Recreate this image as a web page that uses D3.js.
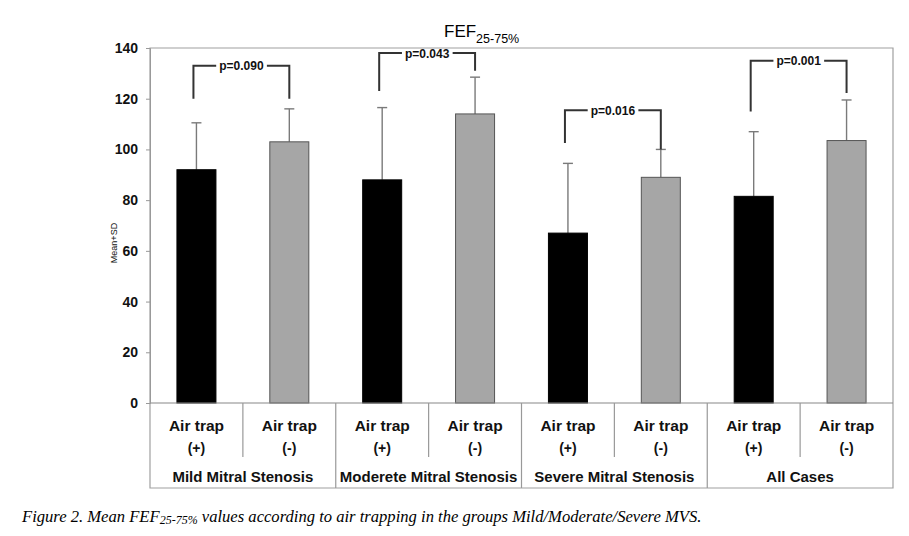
<!DOCTYPE html>
<html><head><meta charset="utf-8">
<script src="https://cdn.jsdelivr.net/npm/d3@7"></script>
<style>body{margin:0;background:#fff}svg{display:block}</style>
</head><body><svg id="c" width="909" height="536"></svg>
<script>
const groups = ["Mild Mitral Stenosis","Moderete Mitral Stenosis","Severe Mitral Stenosis","All Cases"];
const subgroups = ["(+)","(-)"];
const meanPos = [92, 88, 67, 81.5];
const meanNeg = [103, 114, 89, 103.5];
const sdTopPos = [110.5, 116.5, 94.5, 107];
const sdTopNeg = [116, 128.5, 100, 119.5];
const pValues = ["p=0.090","p=0.043","p=0.016","p=0.001"];
const bracketTop = [133, 138, 115.5, 135];
const bracketLeftEnd = [120, 123, 102.5, 115];
const bracketRightEnd = [120, 131, 100, 122.3];
const yTicks = [0,20,40,60,80,100,120,140];

const svg = d3.select("#c");
const L=150, R=893, T=48, B=403, BOTTOM=488;
const keys = [];
groups.forEach((g,i)=>subgroups.forEach((s,j)=>keys.push(i+"_"+j)));
const x = d3.scaleBand().domain(keys).range([L,R]).padding(0);
const y = d3.scaleLinear().domain([0,140]).range([B,T]);
const bw = x.bandwidth()*0.42;
const cx = k => x(k)+x.bandwidth()/2;

const bars = [];
groups.forEach((g,i)=>{
  bars.push({k:i+"_0", v:meanPos[i], sd:sdTopPos[i], fill:"#000", stroke:"#000"});
  bars.push({k:i+"_1", v:meanNeg[i], sd:sdTopNeg[i], fill:"#a6a6a6", stroke:"#555"});
});

// frame
svg.append("path").attr("d",`M${L},${T}H${R}V${BOTTOM}H${L}Z`).attr("fill","none").attr("stroke","#a0a0a0").attr("stroke-width",1.2);

// error bars
const eb = svg.append("g").attr("stroke","#7a7a7a").attr("stroke-width",1.4);
bars.forEach(b=>{
  eb.append("line").attr("x1",cx(b.k)).attr("x2",cx(b.k)).attr("y1",y(b.v)).attr("y2",y(b.sd));
  eb.append("line").attr("x1",cx(b.k)-5).attr("x2",cx(b.k)+5).attr("y1",y(b.sd)).attr("y2",y(b.sd));
});
// bars
svg.append("g").selectAll("rect").data(bars).join("rect")
  .attr("x",d=>cx(d.k)-bw/2).attr("width",bw)
  .attr("y",d=>y(d.v)).attr("height",d=>y(0)-y(d.v))
  .attr("fill",d=>d.fill).attr("stroke",d=>d.stroke).attr("stroke-width",1);

// baseline
svg.append("line").attr("x1",L).attr("x2",R).attr("y1",B).attr("y2",B).attr("stroke","#888").attr("stroke-width",1.2);

// y axis
const ya = svg.append("g").attr("transform",`translate(${L},0)`)
  .call(d3.axisLeft(y).tickValues(yTicks).tickSize(4).tickPadding(8));
ya.select(".domain").attr("stroke","#999");
ya.selectAll(".tick line").attr("stroke","#999");
ya.selectAll("text").attr("font-family","Liberation Sans, Arial, sans-serif").attr("font-size",14).attr("font-weight","bold").attr("fill","#111");

svg.append("text").attr("transform",`translate(117,243) rotate(-90)`).attr("text-anchor","middle")
  .attr("font-family","Liberation Sans, Arial, sans-serif").attr("font-size",9).attr("fill","#111").text("Mean+SD");

// category table
const tbl = svg.append("g").attr("stroke","#999").attr("stroke-width",1.2);
keys.forEach((k,i)=>{
  if(i===0) return;
  const isGroup = i%2===0;
  tbl.append("line").attr("x1",x(k)).attr("x2",x(k)).attr("y1",B).attr("y2",isGroup?BOTTOM:457);
});
const ff = "Liberation Sans, Arial, sans-serif";
keys.forEach((k,i)=>{
  const t = svg.append("text").attr("text-anchor","middle").attr("font-family",ff).attr("font-size",15.5).attr("font-weight","bold").attr("fill","#111");
  t.append("tspan").attr("x",cx(k)).attr("y",431).text("Air trap");
  t.append("tspan").attr("x",cx(k)).attr("y",453).attr("font-size",14).text(subgroups[i%2]);
});
groups.forEach((g,i)=>{
  const gx = (x(i+"_0")+x(i+"_1")+x.bandwidth())/2;
  svg.append("text").attr("x",gx).attr("y",482).attr("text-anchor","middle").attr("font-family",ff)
    .attr("font-size",15).attr("font-weight","bold").attr("fill","#111").text(g);
});

// brackets
groups.forEach((g,i)=>{
  const x1 = cx(i+"_0")-3, x2 = cx(i+"_1");
  const yt = y(bracketTop[i]);
  svg.append("path").attr("d",`M${x1},${y(bracketLeftEnd[i])}V${yt}H${x2}V${y(bracketRightEnd[i])}`)
    .attr("fill","none").attr("stroke","#333").attr("stroke-width",2);
  const tx = (x1+x2)/2;
  const txt = svg.append("text").attr("x",tx).attr("y",yt+4.5).attr("text-anchor","middle").attr("font-family",ff)
    .attr("font-size",12).attr("font-weight","bold").attr("fill","#111").text(pValues[i]);
  const bb = txt.node().getBBox();
  svg.insert("rect",()=>txt.node()).attr("x",bb.x-3).attr("y",yt-3).attr("width",bb.width+6).attr("height",6).attr("fill","#fff");
});

// title
const title = svg.append("text").attr("x",444).attr("y",37).attr("font-family",ff).attr("font-size",17).attr("fill","#000");
title.append("tspan").text("FEF");
title.append("tspan").attr("dy",6).attr("font-size",12.5).text("25-75%");

// caption
const cap = svg.append("text").attr("x",22).attr("y",522).attr("font-family","Liberation Serif, Times New Roman, serif").attr("font-style","italic").attr("font-size",16.6).attr("fill","#000");
cap.append("tspan").text("Figure 2. Mean FEF");
cap.append("tspan").attr("dy",2).attr("font-size",12).text("25-75%");
cap.append("tspan").attr("dy",-2).text(" values according to air trapping in the groups Mild/Moderate/Severe MVS.");
</script></body></html>
